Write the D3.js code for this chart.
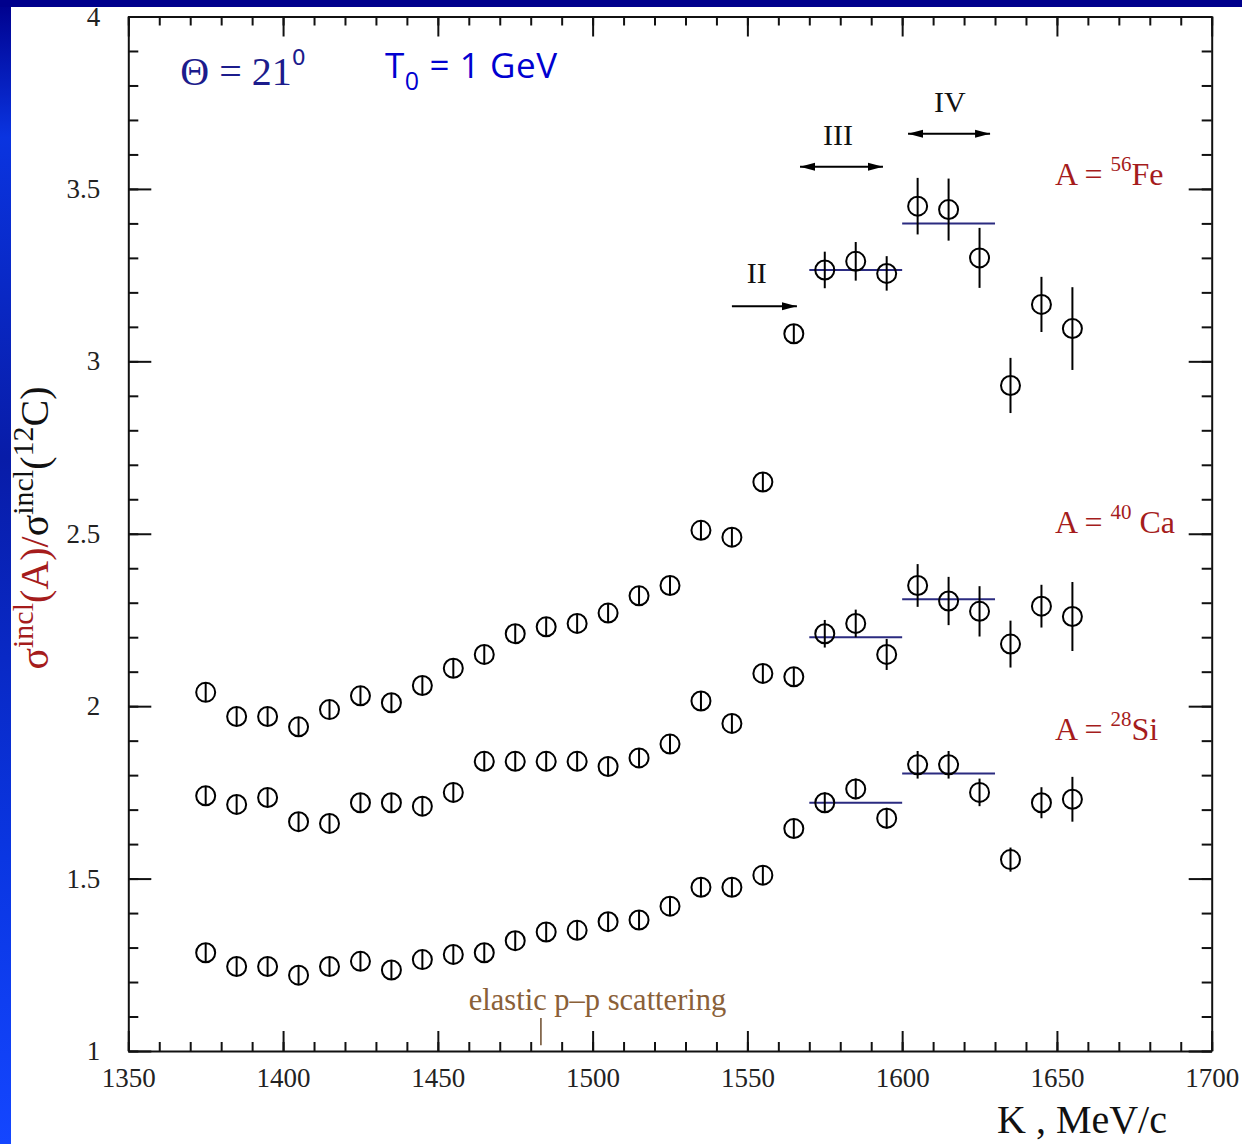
<!DOCTYPE html>
<html lang="en">
<head>
<meta charset="UTF-8">
<title>sigma incl ratio</title>
<script src="https://cdn.jsdelivr.net/npm/d3@7"></script>
<style>
    body {
        margin: 0;
        padding: 0;
    }
    svg {
        display: block;
    }
    text {
        font-family: "Liberation Serif", "Times New Roman", serif;
    }
    .axis path, .axis line {
        stroke: #111;
        stroke-width: 2;
        fill: none;
    }
    .axis text {
        font-size: 27px;
        fill: #222;
        font-family: "Liberation Serif", serif;
    }
    .pt circle {
        fill: none;
        stroke: #000;
        stroke-width: 2;
    }
    .pt line {
        stroke: #000;
        stroke-width: 2;
    }
    .avg {
        stroke: #2b2b80;
        stroke-width: 2;
    }
    .arrow {
        stroke: #000;
        stroke-width: 2;
    }
</style>
</head>
<body>
<svg width="1242" height="1144"></svg>
<script>
    // импульс K, MeV/c
    var momentum = [1375, 1385, 1395, 1405, 1415, 1425, 1435, 1445, 1455, 1465,
        1475, 1485, 1495, 1505, 1515, 1525, 1535, 1545, 1555, 1565,
        1575, 1585, 1595, 1605, 1615, 1625, 1635, 1645, 1655];

    var fe = [2.04, 1.97, 1.97, 1.94, 1.99, 2.03, 2.01, 2.06, 2.11, 2.15,
        2.21, 2.23, 2.24, 2.27, 2.32, 2.35, 2.51, 2.49, 2.65, 3.08,
        3.265, 3.29, 3.255, 3.45, 3.44, 3.30, 2.93, 3.165, 3.095];
    var feErr = [0, 0, 0, 0, 0, 0, 0, 0, 0, 0,
        0, 0, 0, 0, 0, 0, 0, 0, 0, 0,
        0.053, 0.056, 0.05, 0.082, 0.09, 0.087, 0.08, 0.08, 0.12];

    var ca = [1.74, 1.715, 1.735, 1.665, 1.66, 1.72, 1.72, 1.71, 1.75, 1.84,
        1.84, 1.84, 1.84, 1.825, 1.85, 1.89, 2.015, 1.95, 2.095, 2.085,
        2.21, 2.24, 2.15, 2.35, 2.305, 2.275, 2.18, 2.29, 2.26];
    var caErr = [0, 0, 0, 0, 0, 0, 0, 0, 0, 0,
        0, 0, 0, 0, 0, 0, 0, 0, 0, 0,
        0.04, 0.04, 0.045, 0.062, 0.07, 0.073, 0.068, 0.062, 0.1];

    var si = [1.285, 1.245, 1.245, 1.22, 1.245, 1.26, 1.235, 1.265, 1.28, 1.285,
        1.32, 1.345, 1.35, 1.375, 1.38, 1.42, 1.475, 1.475, 1.51, 1.645,
        1.72, 1.76, 1.675, 1.83, 1.83, 1.75, 1.555, 1.72, 1.73];
    var siErr = [0, 0, 0, 0, 0, 0, 0, 0, 0, 0,
        0, 0, 0, 0, 0, 0, 0, 0, 0, 0,
        0.03, 0.03, 0.03, 0.04, 0.04, 0.04, 0.035, 0.045, 0.065];

    // средние по областям III и IV
    var binFrom = [1570, 1600];
    var binTo = [1600, 1630];
    var feAvg = [3.265, 3.40];
    var caAvg = [2.20, 2.31];
    var siAvg = [1.72, 1.805];

    var xTicks = [1350, 1400, 1450, 1500, 1550, 1600, 1650, 1700];
    var yTicks = [1, 1.5, 2, 2.5, 3, 3.5, 4];
    var yTickLabels = ['1', '1.5', '2', '2.5', '3', '3.5', '4'];

    var svg = d3.select('svg');

    // синий фон слайда
    var grad = svg.append('defs').append('linearGradient')
            .attr('id', 'bg').attr('x1', 0).attr('y1', 0).attr('x2', 0).attr('y2', 1);
    grad.append('stop').attr('offset', 0).attr('stop-color', '#00008c');
    grad.append('stop').attr('offset', 0.12).attr('stop-color', '#0a34e0');
    grad.append('stop').attr('offset', 0.4).attr('stop-color', '#081ca8');
    grad.append('stop').attr('offset', 0.75).attr('stop-color', '#0a36e2');
    grad.append('stop').attr('offset', 1).attr('stop-color', '#1446ff');

    svg.append('rect').attr('width', 1242).attr('height', 1144).attr('fill', 'url(#bg)');
    svg.append('rect').attr('x', 0).attr('y', 0).attr('width', 1242).attr('height', 7).attr('fill', '#00008c');
    svg.append('rect').attr('x', 11).attr('y', 7).attr('width', 1231).attr('height', 1137).attr('fill', '#fff');

    var defs = svg.select('defs');
    defs.append('marker').attr('id', 'head')
            .attr('markerUnits', 'userSpaceOnUse')
            .attr('markerWidth', 16).attr('markerHeight', 10)
            .attr('refX', 15).attr('refY', 5)
            .attr('orient', 'auto-start-reverse')
            .append('path').attr('d', 'M0,1 L15,5 L0,9 Z').attr('fill', '#000');

    var x = d3.scaleLinear().domain([1350, 1700]).range([128.3, 1211.7]);
    var y = d3.scaleLinear().domain([1, 4]).range([1051, 16.5]);

    // оси: крупные и мелкие деления со всех четырёх сторон
    svg.append('g').attr('class', 'axis')
            .attr('transform', 'translate(0,' + y(1) + ')')
            .call(d3.axisBottom(x).tickValues(xTicks).tickSize(-20).tickSizeOuter(0).tickPadding(17)
                    .tickFormat(d3.format('d')));
    svg.append('g').attr('class', 'axis minor')
            .attr('transform', 'translate(0,' + y(1) + ')')
            .call(d3.axisBottom(x).ticks(35).tickSize(-9).tickFormat(''));
    svg.append('g').attr('class', 'axis')
            .attr('transform', 'translate(0,' + y(4) + ')')
            .call(d3.axisTop(x).tickValues(xTicks).tickSize(-20).tickSizeOuter(0).tickFormat(''));
    svg.append('g').attr('class', 'axis minor')
            .attr('transform', 'translate(0,' + y(4) + ')')
            .call(d3.axisTop(x).ticks(35).tickSize(-9).tickFormat(''));

    svg.append('g').attr('class', 'axis')
            .attr('transform', 'translate(' + x(1350) + ',0)')
            .call(d3.axisLeft(y).tickValues(yTicks).tickSize(-23).tickSizeOuter(0).tickPadding(28)
                    .tickFormat(function (d, i) { return yTickLabels[i]; }));
    svg.append('g').attr('class', 'axis minor')
            .attr('transform', 'translate(' + x(1350) + ',0)')
            .call(d3.axisLeft(y).ticks(30).tickSize(-10).tickFormat(''));
    svg.append('g').attr('class', 'axis')
            .attr('transform', 'translate(' + x(1700) + ',0)')
            .call(d3.axisRight(y).tickValues(yTicks).tickSize(-23).tickSizeOuter(0).tickFormat(''));
    svg.append('g').attr('class', 'axis minor')
            .attr('transform', 'translate(' + x(1700) + ',0)')
            .call(d3.axisRight(y).ticks(30).tickSize(-10).tickFormat(''));
    svg.selectAll('.minor .domain').remove();
    svg.selectAll('.minor text').remove();

    // горизонтальные средние (синие)
    function avgLines(vals) {
        svg.append('g').selectAll('line').data(vals).enter().append('line')
                .attr('class', 'avg')
                .attr('x1', function (d, i) { return x(binFrom[i]); })
                .attr('x2', function (d, i) { return x(binTo[i]); })
                .attr('y1', function (d) { return y(d); })
                .attr('y2', function (d) { return y(d); });
    }
    avgLines(feAvg);
    avgLines(caAvg);
    avgLines(siAvg);

    // точки с ошибками
    var r = 9.5;
    function series(vals, errs) {
        var g = svg.append('g').selectAll('g').data(vals).enter().append('g')
                .attr('class', 'pt')
                .attr('transform', function (d, i) {
                    return 'translate(' + x(momentum[i]) + ',' + y(d) + ')';
                });
        g.append('circle').attr('r', r);
        g.append('line')
                .attr('y1', function (d, i) {
                    return -Math.max(r, y(d) - y(d + errs[i]));
                })
                .attr('y2', function (d, i) {
                    return Math.max(r, y(d - errs[i]) - y(d));
                });
    }
    series(fe, feErr);
    series(ca, caErr);
    series(si, siErr);

    // стрелки II, III, IV
    var arrows = [
        {name: 'II', from: 1545, to: 1566, v: 3.16, lx: 1553, lv: 3.227, both: false},
        {name: 'III', from: 1567, to: 1593.8, v: 3.564, lx: 1579.3, lv: 3.628, both: true},
        {name: 'IV', from: 1601.9, to: 1628.4, v: 3.66, lx: 1615.4, lv: 3.723, both: true}
    ];
    arrows.forEach(function (a) {
        var ln = svg.append('line').attr('class', 'arrow')
                .attr('x1', x(a.from)).attr('x2', x(a.to))
                .attr('y1', y(a.v)).attr('y2', y(a.v))
                .attr('marker-end', 'url(#head)');
        if (a.both) ln.attr('marker-start', 'url(#head)');
        svg.append('text').attr('x', x(a.lx)).attr('y', y(a.lv))
                .attr('text-anchor', 'middle').style('font-size', '30px').attr('fill', '#111')
                .text(a.name);
    });

    // упругое p-p рассеяние
    svg.append('line').attr('x1', x(1483.3)).attr('x2', x(1483.3))
            .attr('y1', y(1.096)).attr('y2', y(1.017))
            .attr('stroke', '#6b4a2a').attr('stroke-width', 1.5);
    svg.append('text').attr('x', x(1460)).attr('y', y(1.119))
            .style('font-size', '30.5px').attr('fill', '#8a6038')
            .text('elastic p\u2013p scattering');

    // подписи ядер
    function nucleus(mass, el, xv, yv) {
        var t = svg.append('text').attr('x', x(xv)).attr('y', y(yv))
                .style('font-size', '32px').attr('fill', '#a51c1c');
        t.append('tspan').text('A = ');
        t.append('tspan').attr('dy', -14).style('font-size', '21px').text(mass);
        t.append('tspan').attr('dy', 14).text(el);
    }
    nucleus('56', 'Fe', 1649.4, 3.512);
    nucleus('40', ' Ca', 1649.4, 2.502);
    nucleus('28', 'Si', 1649.4, 1.902);

    // Θ и T0
    var th = svg.append('text').attr('x', x(1366.8)).attr('y', y(3.80))
            .style('font-size', '40px').attr('fill', '#1c1c8c');
    th.append('tspan').text('\u0398 = 21');
    th.append('tspan').attr('dy', -20).style('font-size', '22px')
            .style('font-family', '"DejaVu Sans", sans-serif').text('0');

    var t0 = svg.append('text').attr('x', x(1432.9)).attr('y', y(3.822))
            .style('font-family', '"Open Sans", sans-serif').style('font-size', '35px')
            .style('letter-spacing', '0.6px').attr('fill', '#0000d0');
    t0.append('tspan').text('T');
    t0.append('tspan').attr('dy', 12).style('font-size', '25px').text('0');
    t0.append('tspan').attr('dy', -12).text(' = 1 GeV');

    // подписи осей
    svg.append('text').attr('x', 997).attr('y', 1133)
            .style('font-size', '40px').attr('fill', '#111')
            .text('K , MeV/c');

    var yl = svg.append('text')
            .attr('transform', 'translate(48,528) rotate(-90)')
            .attr('text-anchor', 'middle')
            .style('font-size', '40px');
    yl.append('tspan').attr('fill', '#a51c1c').text('\u03c3');
    yl.append('tspan').attr('fill', '#a51c1c').attr('dy', -15).style('font-size', '30px').text('incl');
    yl.append('tspan').attr('fill', '#a51c1c').attr('dy', 15).text('(A)/');
    yl.append('tspan').attr('fill', '#111').text('\u03c3');
    yl.append('tspan').attr('fill', '#111').attr('dy', -15).style('font-size', '30px').text('incl');
    yl.append('tspan').attr('fill', '#111').attr('dy', 15).text('(');
    yl.append('tspan').attr('fill', '#111').attr('dy', -15).style('font-size', '30px').text('12');
    yl.append('tspan').attr('fill', '#111').attr('dy', 15).text('C)');
</script>
</body>
</html>
